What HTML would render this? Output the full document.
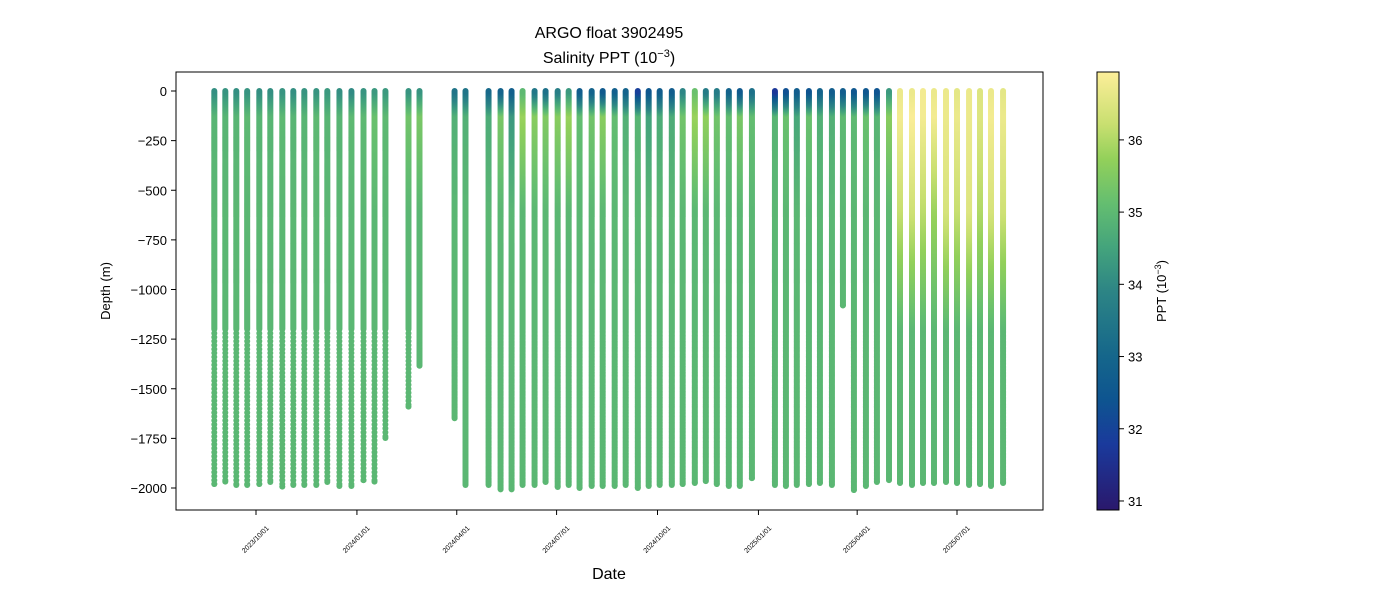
<!DOCTYPE html>
<html><head><meta charset="utf-8"><style>
body{margin:0;background:#fff;}
svg{display:block;font-family:"Liberation Sans","DejaVu Sans",sans-serif;}
</style></head><body>
<svg id="chart" width="1400" height="600" viewBox="0 0 1400 600">
<defs>
<linearGradient id="cbgrad" x1="0" y1="1" x2="0" y2="0">
<stop offset="0" stop-color="#2a186c"/><stop offset="0.15" stop-color="#1a3a9c"/><stop offset="0.25" stop-color="#0e5490"/>
<stop offset="0.35" stop-color="#15668b"/><stop offset="0.5" stop-color="#2d8585"/><stop offset="0.6" stop-color="#44a47c"/>
<stop offset="0.7" stop-color="#64be70"/><stop offset="0.8" stop-color="#92d05a"/><stop offset="0.88" stop-color="#c8df70"/>
<stop offset="1" stop-color="#fdee99"/></linearGradient>
<clipPath id="plotclip"><rect x="176" y="72" width="867" height="438"/></clipPath>
</defs>
<text x="609" y="38" text-anchor="middle" font-size="16">ARGO float 3902495</text>
<text x="609" y="63" text-anchor="middle" font-size="16">Salinity PPT (10<tspan dy="-6" font-size="11">−3</tspan><tspan dy="6">)</tspan></text>
<g id="marks" clip-path="url(#plotclip)"></g>
<rect x="176" y="72" width="867" height="438" fill="none" stroke="#000" stroke-width="1"/>
<g id="yaxis"></g>
<g id="xaxis"></g>
<text x="609" y="579" text-anchor="middle" font-size="16">Date</text>
<text transform="translate(110,291) rotate(-90)" text-anchor="middle" font-size="13">Depth (m)</text>
<rect x="1097" y="72" width="22" height="438" fill="url(#cbgrad)" stroke="#000" stroke-width="1"/>
<g id="cbaxis"></g>
<text transform="translate(1166,291) rotate(-90)" text-anchor="middle" font-size="13">PPT (10<tspan dy="-5" font-size="9">−3</tspan><tspan dy="5">)</tspan></text>
</svg>
<script>
// days since 2023-10-01
const profileDays=[-38,-28,-18,-8,3,13,24,34,44,55,65,76,87,98,108,118,139,149,181,191,212,223,233,243,254,264,275,285,295,306,316,327,337,348,358,368,379,389,400,410,420,431,441,452,473,483,493,504,514,525,535,545,556,566,577,587,598,608,618,629,639,650,660,670,681];
const maxDepths=[1980,1968,1985,1985,1980,1970,1993,1985,1985,1985,1970,1990,1990,1960,1968,1748,1590,1384,1649,1985,1985,2007,2007,1985,1985,1970,1995,1985,2000,1990,1990,1990,1985,2000,1990,1985,1985,1980,1975,1965,1980,1990,1990,1950,1985,1990,1985,1980,1975,1985,1080,2010,1990,1970,1960,1975,1985,1975,1975,1970,1975,1985,1980,1990,1975];
const sal0=[34.1,34.2,34.1,34.2,34.1,34.1,34.2,34.1,34.2,34.2,34.3,34.1,34.0,34.2,34.3,34.3,34.2,34.2,33.4,33.4,33.1,32.9,32.8,35.0,33.5,33.3,33.7,34.3,32.7,32.9,32.6,32.8,32.9,31.9,32.5,32.7,32.7,33.9,35.2,33.6,33.6,32.9,32.6,33.3,31.7,32.3,32.7,32.4,32.9,32.7,32.7,32.5,32.5,32.4,34.3,36.7,36.7,36.8,36.7,36.7,36.6,36.7,36.5,36.7,36.6];
const sal150=[34.9,34.9,34.9,35.0,34.9,34.9,35.0,34.9,34.9,35.0,34.9,34.9,35.0,35.0,35.2,35.0,35.3,35.4,34.8,34.8,34.7,35.4,34.3,35.8,35.6,35.5,35.6,35.8,35.1,35.3,35.6,35.1,34.8,34.9,34.5,34.7,34.7,35.3,35.8,35.7,35.3,35.1,35.4,35.1,34.9,35.2,34.6,35.2,34.8,34.8,35.0,35.0,35.2,34.9,35.6,36.8,36.9,36.8,36.8,36.7,36.7,36.7,36.5,36.8,36.7];
const sal600=[34.95,34.95,34.95,34.95,34.95,34.95,34.95,34.95,34.95,34.95,34.95,34.95,34.95,34.95,34.95,34.95,34.95,34.95,34.95,34.95,34.95,34.95,34.95,34.95,34.95,34.95,34.95,34.95,34.95,34.95,34.95,34.95,34.95,34.95,34.95,34.95,34.95,34.95,34.95,34.95,34.95,34.95,34.95,34.95,34.95,34.95,34.95,34.95,34.95,34.95,34.95,34.95,34.95,34.95,35.0,36.2,36.3,36.1,35.8,36.4,36.2,36.5,36.0,36.4,36.3];
const deepSal=34.95;
const dottedCount=17;
const yTicks=[0,-250,-500,-750,-1000,-1250,-1500,-1750,-2000];
const xTickDays=[0,92,183,274,366,458,548,639];
const xTickLabels=["2023/10/01","2024/01/01","2024/04/01","2024/07/01","2024/10/01","2025/01/01","2025/04/01","2025/07/01"];
const cbTicks=[31,32,33,34,35,36];

const NS="http://www.w3.org/2000/svg";
const xScale=d=>256+d*(957-256)/639;
const yScale=v=>91+(-v)*(488-91)/2000;
const cMin=30.875,cMax=36.94;
const stops=[[0,"#2a186c"],[0.15,"#1a3a9c"],[0.25,"#0e5490"],[0.35,"#15668b"],[0.5,"#2d8585"],[0.6,"#44a47c"],[0.7,"#64be70"],[0.8,"#92d05a"],[0.88,"#c8df70"],[1,"#fdee99"]];
function hx(h){return [1,3,5].map(i=>parseInt(h.substr(i,2),16));}
function color(v){let t=(v-cMin)/(cMax-cMin);t=Math.max(0,Math.min(1,t));
 for(let i=1;i<stops.length;i++){if(t<=stops[i][0]){const a=stops[i-1],b=stops[i];const f=(t-a[0])/(b[0]-a[0]);const ca=hx(a[1]),cb=hx(b[1]);
 return "rgb("+ca.map((c,k)=>Math.round(c+(cb[k]-c)*f)).join(",")+")";}}return stops[stops.length-1][1];}
function salAt(i,d){
 if(d<=120)return sal0[i]+(sal150[i]-sal0[i])*d/120;
 if(d<=600)return sal150[i]+(sal600[i]-sal150[i])*(d-120)/480;
 if(d<=1200)return sal600[i]+(deepSal-sal600[i])*(d-600)/600;
 return deepSal;}
const marks=document.getElementById('marks');
profileDays.forEach((day,i)=>{
 const g=document.createElementNS(NS,'g');
 
 
 const x=xScale(day);
 const pts=[];
 for(let d=0;d<=maxDepths[i];){pts.push(d);
   if(d<1200)d+=5;else d+=(i<dottedCount?20:6);}
 pts.push(maxDepths[i]);
 for(let k=pts.length-1;k>=0;k--){const d=pts[k];
  const c=document.createElementNS(NS,'circle');
  c.setAttribute('cx',x.toFixed(1));c.setAttribute('cy',yScale(-d).toFixed(1));c.setAttribute('r','3');
  c.setAttribute('fill',color(salAt(i,d)));g.appendChild(c);}
 marks.appendChild(g);
});
const ya=document.getElementById('yaxis');
yTicks.forEach(v=>{const y=yScale(v);
 const l=document.createElementNS(NS,'line');l.setAttribute('x1',171);l.setAttribute('x2',176);l.setAttribute('y1',y);l.setAttribute('y2',y);l.setAttribute('stroke','#000');
 
 
 ya.appendChild(l);
 const t=document.createElementNS(NS,'text');t.setAttribute('x',167);t.setAttribute('y',y+5);t.setAttribute('text-anchor','end');t.setAttribute('font-size','13');
 t.textContent=v<0?'−'+(-v):String(v);
 
 
 ya.appendChild(t);});
const xa=document.getElementById('xaxis');
xTickDays.forEach((d,i)=>{const x=xScale(d);
 const l=document.createElementNS(NS,'line');l.setAttribute('x1',x);l.setAttribute('x2',x);l.setAttribute('y1',510);l.setAttribute('y2',515);l.setAttribute('stroke','#000');
 
 
 xa.appendChild(l);
 const t=document.createElementNS(NS,'text');t.setAttribute('transform','translate('+(x+1)+',541) rotate(-45)');t.setAttribute('text-anchor','middle');t.setAttribute('font-size','7');
 t.textContent=xTickLabels[i];
 
 
 xa.appendChild(t);});
const ca=document.getElementById('cbaxis');
cbTicks.forEach(v=>{const y=510-(v-cMin)/(cMax-cMin)*438;
 const l=document.createElementNS(NS,'line');l.setAttribute('x1',1119);l.setAttribute('x2',1124);l.setAttribute('y1',y);l.setAttribute('y2',y);l.setAttribute('stroke','#000');
 
 
 ca.appendChild(l);
 const t=document.createElementNS(NS,'text');t.setAttribute('x',1128);t.setAttribute('y',y+5);t.setAttribute('font-size','13');t.textContent=String(v);
 
 
 ca.appendChild(t);});
</script>
</body></html>
